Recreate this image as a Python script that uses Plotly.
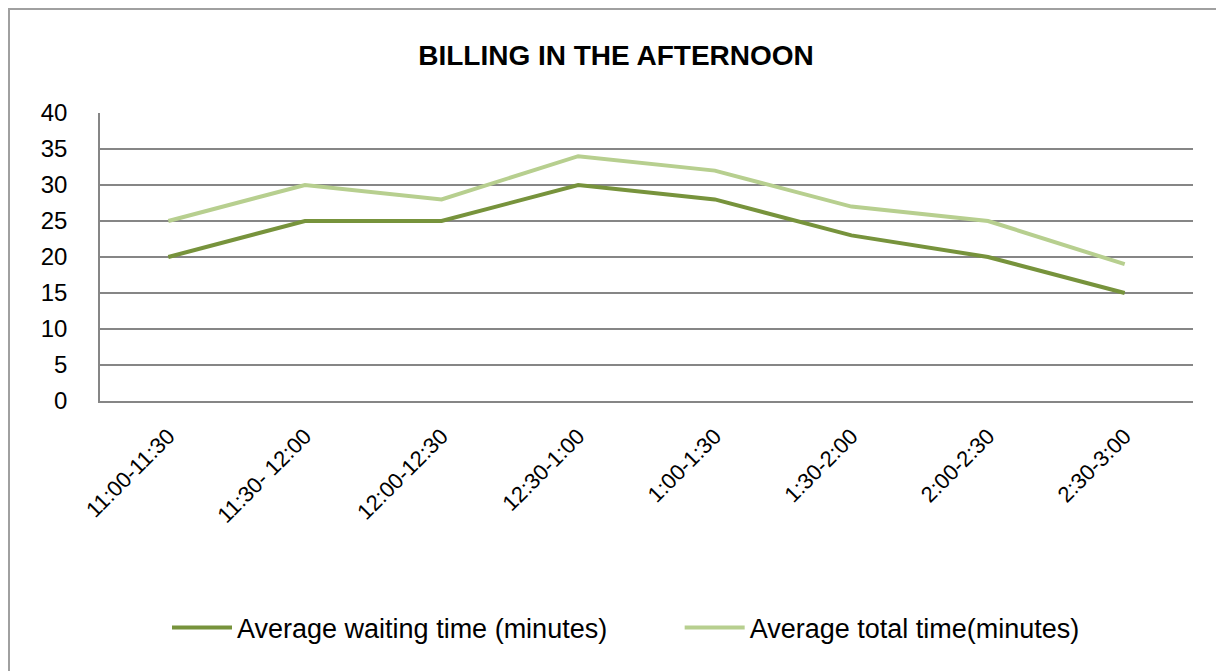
import plotly.graph_objects as go

categories = ["11:00-11:30", "11:30- 12:00", "12:00-12:30", "12:30-1:00",
              "1:00-1:30", "1:30-2:00", "2:00-2:30", "2:30-3:00"]
waiting = [20, 25, 25, 30, 28, 23, 20, 15]
total = [25, 30, 28, 34, 32, 27, 25, 19]
y_ticks = [0, 5, 10, 15, 20, 25, 30, 35, 40]
series_names = ["Average waiting time (minutes)", "Average total time(minutes)"]

fig = go.Figure()
fig.add_trace(go.Scatter(x=categories, y=waiting, mode="lines",
                         name=series_names[0] + "\u00a0" * 9,
                         line=dict(color="#77933C", width=4)))
fig.add_trace(go.Scatter(x=categories, y=total, mode="lines",
                         name=series_names[1],
                         line=dict(color="#B7CF8F", width=4)))

# page has an 8px body margin, so figure is 8px smaller and offsets shifted
W, H = 1216, 663
L, R, T, B = 92, 31, 105, 270
pw, ph = W - L - R, H - T - B

fig.update_layout(
    width=W, height=H,
    margin=dict(l=L, r=R, t=T, b=B),
    paper_bgcolor="white", plot_bgcolor="white",
    title=dict(text="<b>BILLING IN THE AFTERNOON</b>", x=(616 - 8) / W, xanchor="center",
               y=1 - 47 / H, yanchor="middle",
               font=dict(family="Liberation Sans, Arial, sans-serif", size=28, color="black")),
    font=dict(family="Liberation Sans, sans-serif", color="black"),
    xaxis=dict(type="category", range=[-0.5, 7.5], tickangle=-45,
               showgrid=False, showline=True, linecolor="#868686", linewidth=1.5,
               ticks="", ticklabelstandoff=12,
               tickfont=dict(family="Liberation Sans, sans-serif", size=22, color="black"),
               fixedrange=True),
    yaxis=dict(range=[0, 40], tickvals=y_ticks, showgrid=True, gridcolor="#868686", gridwidth=1.5,
               showline=True, linecolor="#868686", linewidth=1.5, ticks="",
               ticklabelstandoff=26,
               tickfont=dict(family="Liberation Sans, sans-serif", size=24, color="black"),
               zeroline=False, fixedrange=True),
    legend=dict(orientation="h", x=(626 - 8 - L) / pw, xanchor="center",
                y=-(620 - 393) / ph, yanchor="middle",
                font=dict(family="Liberation Sans, sans-serif", size=27, color="black"),
                itemwidth=60, tracegroupgap=0),
    shapes=[dict(type="rect", xref="paper", yref="paper",
                 x0=(1 - L) / pw, x1=1.2, y0=-2, y1=(H - B - 1) / ph,
                 line=dict(color="#A0A0A0", width=2), fillcolor="rgba(0,0,0,0)", layer="below")],
)

fig.write_html("out.html")
